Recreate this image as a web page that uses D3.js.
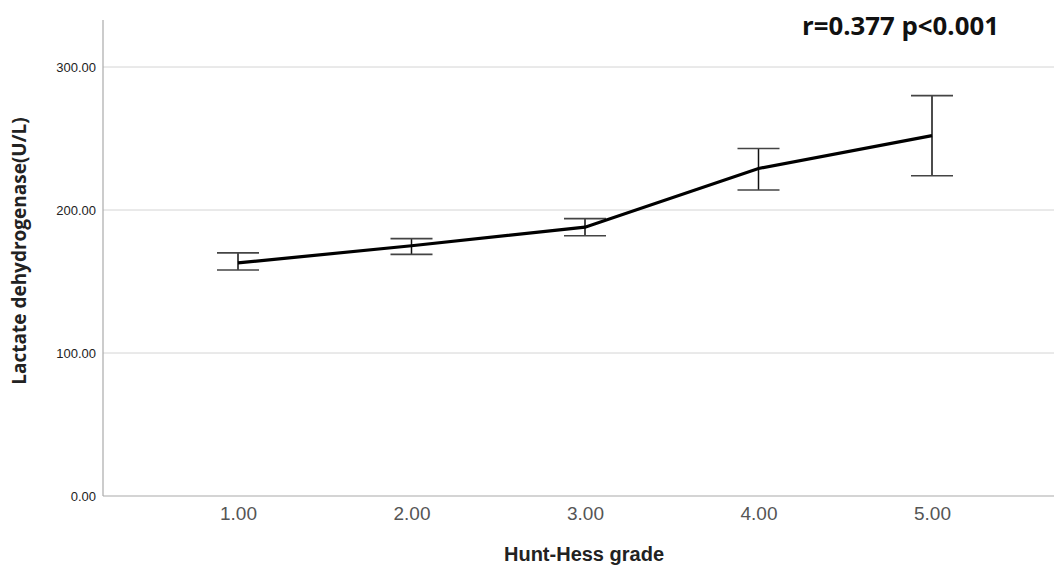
<!DOCTYPE html>
<html>
<head>
<meta charset="utf-8">
<script src="https://cdn.jsdelivr.net/npm/d3@7"></script>
<style>
  body { margin: 0; background: #fff; }
</style>
</head>
<body>
<svg id="chart" width="1054" height="567"></svg>
<script>
// Hunt-Hess grade vs LDH, mean with error bars
const grades = [1, 2, 3, 4, 5];
const means = [163, 175, 188, 229, 252];
const lower = [158, 169, 182, 214, 224];
const upper = [170, 180, 194, 243, 280];
const yTicks = [0, 100, 200, 300];

const svg = d3.select("#chart");
const plotLeft = 103, plotRight = 1054, plotTop = 20, plotBottom = 496;
const arial = "Arial, 'Liberation Sans', sans-serif";
const sans = "'Open Sans', 'Noto Sans', sans-serif";

const x = d3.scaleLinear().domain([1, 5]).range([238, 932]);
const y = d3.scaleLinear().domain([0, 300]).range([plotBottom, 67]);

// gridlines
svg.append("g")
  .selectAll("line")
  .data(yTicks.filter(d => d > 0))
  .enter().append("line")
  .attr("x1", plotLeft).attr("x2", plotRight)
  .attr("y1", d => y(d)).attr("y2", d => y(d))
  .attr("stroke", "#d4d4d4")
  .attr("stroke-width", 1);

// y axis
const yAxis = svg.append("g")
  .attr("transform", `translate(${plotLeft},0)`)
  .call(d3.axisLeft(y).tickValues(yTicks).tickSize(0).tickPadding(7).tickFormat(d3.format(".2f")));
yAxis.select(".domain").remove();
yAxis.selectAll("text")
  .style("font-family", arial).style("font-size", "13px").attr("fill", "#222");
svg.append("line")
  .attr("x1", plotLeft).attr("x2", plotLeft).attr("y1", plotTop).attr("y2", plotBottom)
  .attr("stroke", "#aaa").attr("stroke-width", 1.2);

// x axis
const xAxis = svg.append("g")
  .attr("transform", `translate(0,${plotBottom})`)
  .call(d3.axisBottom(x).tickValues(grades).tickSize(0).tickPadding(11).tickFormat(d3.format(".2f")));
xAxis.select(".domain").remove();
xAxis.selectAll("text")
  .style("font-family", arial).style("font-size", "19px").attr("fill", "#555");
svg.append("line")
  .attr("x1", plotLeft).attr("x2", plotRight).attr("y1", plotBottom).attr("y2", plotBottom)
  .attr("stroke", "#aaa").attr("stroke-width", 1.2);

// error bars
const bars = svg.append("g").selectAll("g")
  .data(grades)
  .enter().append("g");
bars.append("line")
  .attr("x1", d => x(d)).attr("x2", d => x(d))
  .attr("y1", (d, i) => y(upper[i])).attr("y2", (d, i) => y(lower[i]))
  .attr("stroke", "#111").attr("stroke-width", 1.5);
bars.append("line")
  .attr("x1", d => x(d) - 21).attr("x2", d => x(d) + 21)
  .attr("y1", (d, i) => y(upper[i])).attr("y2", (d, i) => y(upper[i]))
  .attr("stroke", "#444").attr("stroke-width", 1.6);
bars.append("line")
  .attr("x1", d => x(d) - 21).attr("x2", d => x(d) + 21)
  .attr("y1", (d, i) => y(lower[i])).attr("y2", (d, i) => y(lower[i]))
  .attr("stroke", "#444").attr("stroke-width", 1.6);

// mean line
const line = d3.line()
  .x(d => x(d))
  .y((d, i) => y(means[i]));
svg.append("path")
  .datum(grades)
  .attr("d", line)
  .attr("fill", "none")
  .attr("stroke", "#000")
  .attr("stroke-width", 3.2);

// axis titles
svg.append("text")
  .attr("transform", "translate(26,251) rotate(-90)")
  .attr("text-anchor", "middle")
  .style("font-family", sans).style("font-size", "19px").style("font-weight", "bold")
  .attr("fill", "#222")
  .text("Lactate dehydrogenase(U/L)");
svg.append("text")
  .attr("x", 584).attr("y", 561)
  .attr("text-anchor", "middle")
  .style("font-family", arial).style("font-size", "20px").style("font-weight", "bold")
  .attr("fill", "#222")
  .text("Hunt-Hess grade");

// annotation
svg.append("text")
  .attr("x", 802).attr("y", 35)
  .style("font-family", sans).style("font-size", "25.8px").style("font-weight", "bold")
  .attr("fill", "#111")
  .text("r=0.377 p<0.001");
</script>
</body>
</html>
